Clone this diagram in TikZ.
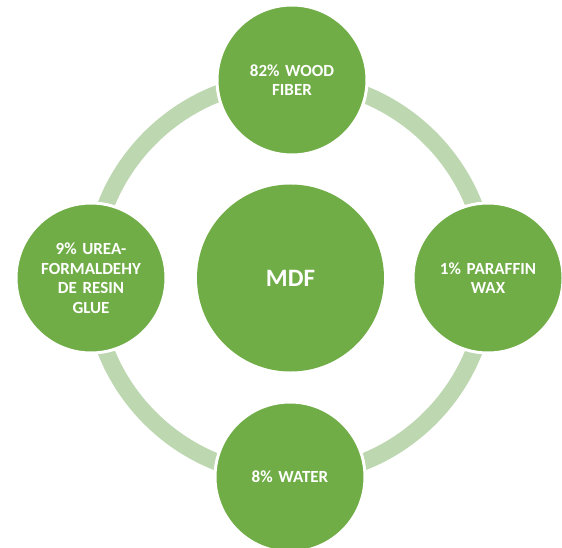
\documentclass[tikz,border=0pt]{standalone}
\usepackage{fontspec}
\setmainfont{Carlito}
\definecolor{leaf}{HTML}{70AD47}
\definecolor{ringgreen}{HTML}{BDD7B0}
\begin{document}
\begin{tikzpicture}[x=1pt,y=-1pt,
  part/.style={circle,fill=leaf,draw=white,line width=3pt,minimum size=150pt,
    inner sep=0pt,text=white,font=\bfseries\fontsize{17}{19.5}\selectfont,
    align=center,text width=118pt},
  core/.style={circle,fill=leaf,minimum size=187pt,inner sep=0pt,text=white,
    font=\bfseries\fontsize{25}{28}\selectfont}]
\useasboundingbox (0,0) rectangle (562,548);
\begin{scope}
\clip (0,0) rectangle (562,548);
% connecting ring
\draw[ringgreen,line width=17pt] (290,278) circle[radius=198];
% centre and parts
\node[core] (mdf) at (290.5,278) {MDF};
\node[part] (wood) at (292,80) {82\% WOOD\\FIBER};
\node[part] (wax) at (488,278) {1\% PARAFFIN\\WAX};
\node[part] (water) at (290,477) {8\% WATER};
\node[part] (glue) at (91,278) {9\% UREA-\\FORMALDEHY\\DE RESIN\\GLUE};
\end{scope}
\end{tikzpicture}
\end{document}
